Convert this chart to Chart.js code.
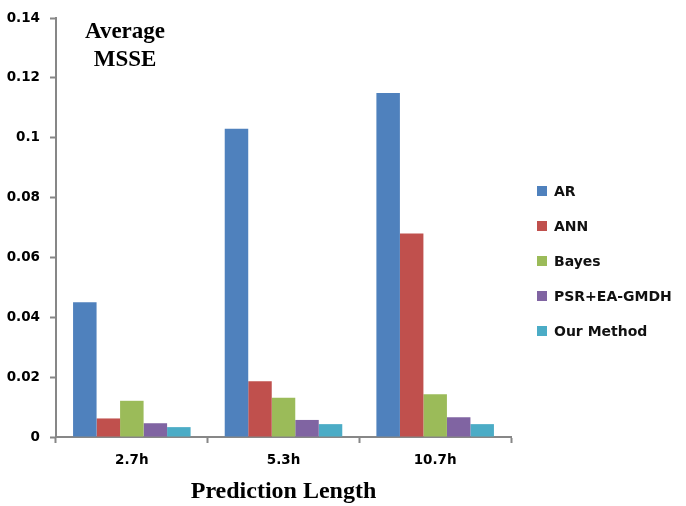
<!DOCTYPE html>
<html>
<head>
<meta charset="utf-8">
<script src="https://cdn.jsdelivr.net/npm/chart.js@4/dist/chart.umd.min.js"></script>
<style>
  html, body { margin: 0; padding: 0; background: #fff; }
  #wrap { width: 686px; height: 506px; }
</style>
</head>
<body>
<div id="wrap"><canvas id="msse" width="686" height="506"></canvas></div>
<script>
var categories = ['2.7h', '5.3h', '10.7h'];
var seriesNames = ['AR', 'ANN', 'Bayes', 'PSR+EA-GMDH', 'Our Method'];
var seriesColors = ['#4f81bd', '#c0504d', '#9bbb59', '#8064a2', '#4bacc6'];
var arValues = [0.045, 0.103, 0.115];
var annValues = [0.0062, 0.0186, 0.068];
var bayesValues = [0.0121, 0.0131, 0.0143];
var psrValues = [0.0046, 0.0057, 0.0066];
var ourValues = [0.0033, 0.0043, 0.0043];
var yTickLabels = ['0', '0.02', '0.04', '0.06', '0.08', '0.1', '0.12', '0.14'];

var allValues = [arValues, annValues, bayesValues, psrValues, ourValues];
var tickFont = { family: 'DejaVu Sans', weight: 'bold', size: 13.5 };

// legend + inner title, drawn on the canvas
var sidePlugin = {
    id: 'side',
    afterDraw: function(chart) {
        var ctx = chart.ctx;
        ctx.save();
        ctx.fillStyle = '#000';
        ctx.font = 'bold 23px "Liberation Serif"';
        ctx.textAlign = 'center';
        ctx.textBaseline = 'middle';
        ctx.fillText('Average', 125, 32);
        ctx.fillText('MSSE', 125, 60);

        ctx.font = 'bold 14px "DejaVu Sans"';
        ctx.textAlign = 'left';
        chart.data.datasets.forEach(function(ds, i) {
            var y = 191 + i * 35;
            ctx.fillStyle = ds.backgroundColor;
            ctx.fillRect(537, y - 5, 10, 10);
            ctx.fillStyle = '#111';
            ctx.fillText(ds.label, 554, y + 1);
        });
        ctx.restore();
    }
};

var config = {
    type: 'bar',
    data: {
        labels: categories,
        datasets: seriesNames.map(function(name, i) {
            return {
                label: name,
                data: allValues[i],
                backgroundColor: seriesColors[i],
                borderWidth: 0,
                categoryPercentage: 0.775,
                barPercentage: 1.0
            };
        })
    },
    options: {
        responsive: false,
        animation: false,
        layout: { padding: { top: 13, right: 175, bottom: 0, left: 0 } },
        plugins: {
            legend: { display: false },
            tooltip: { enabled: false }
        },
        scales: {
            x: {
                grid: {
                    drawOnChartArea: false,
                    drawTicks: true,
                    tickLength: 6,
                    tickWidth: 2,
                    tickColor: '#878787'
                },
                border: { color: '#878787', width: 2 },
                ticks: { color: '#000', font: tickFont, padding: 9 },
                title: {
                    display: true,
                    text: 'Prediction Length',
                    color: '#000',
                    font: { family: 'Liberation Serif', weight: 'bold', size: 24 },
                    padding: { top: 0, bottom: 0 }
                },
                afterFit: function(scale) { scale.height = 69; }
            },
            y: {
                min: 0,
                max: 0.14,
                grid: {
                    drawOnChartArea: false,
                    drawTicks: true,
                    tickLength: 6,
                    tickWidth: 2,
                    tickColor: '#878787'
                },
                border: { color: '#878787', width: 2 },
                ticks: {
                    stepSize: 0.02,
                    color: '#000',
                    font: tickFont,
                    padding: 10,
                    callback: function(v, i) { return yTickLabels[i]; }
                },
                afterFit: function(scale) { scale.width = 56; }
            }
        }
    },
    plugins: [sidePlugin]
};

var ctx = document.getElementById('msse').getContext('2d');
var msseChart = new Chart(ctx, config);
</script>
</body>
</html>
